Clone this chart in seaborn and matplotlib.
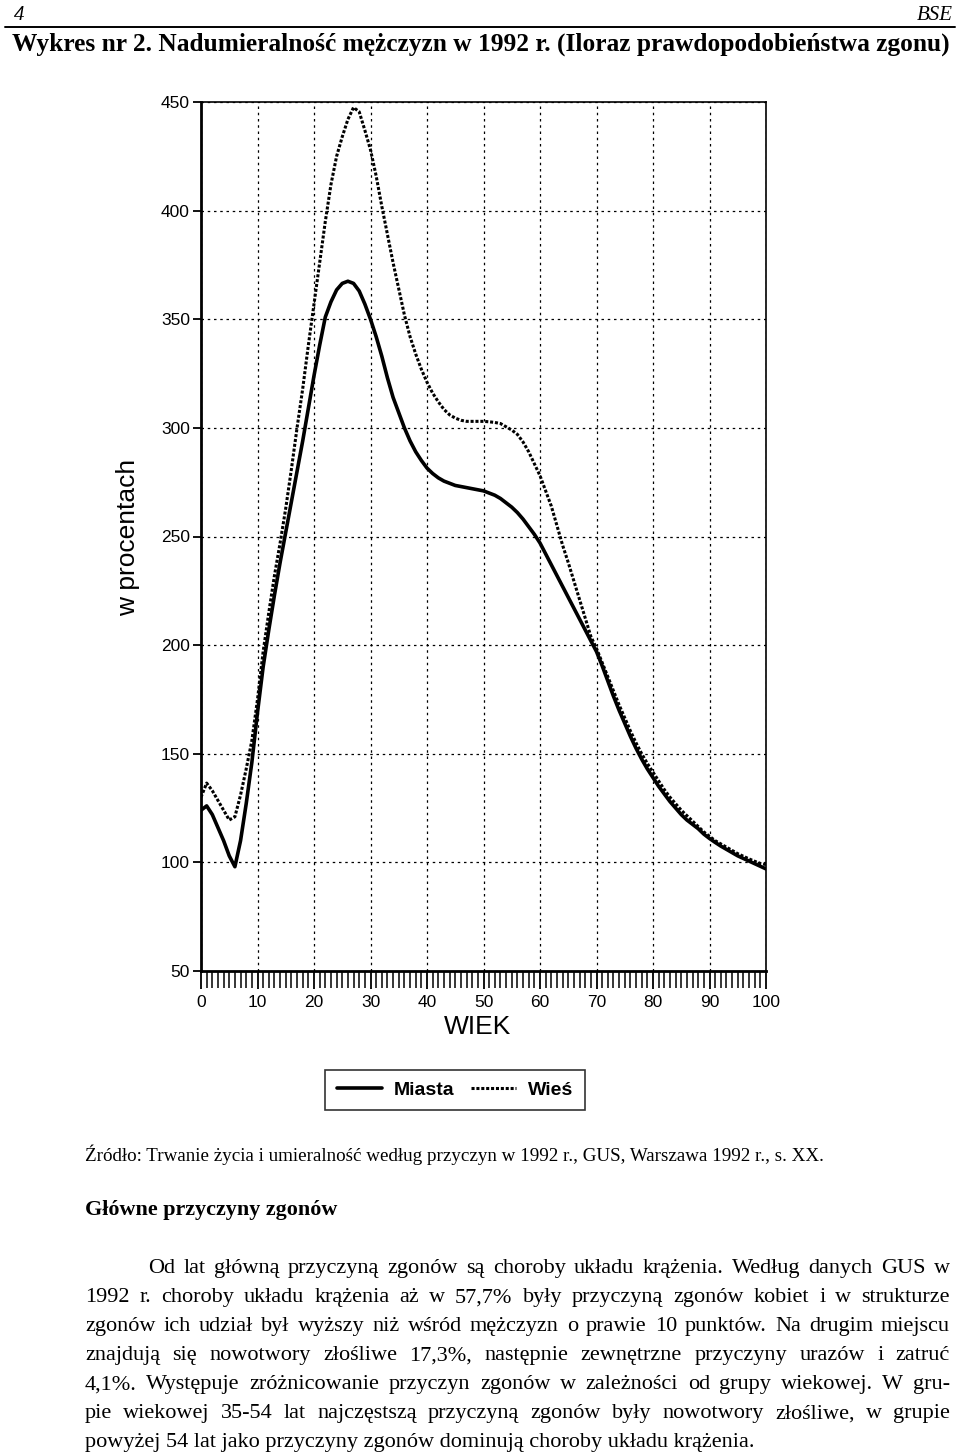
import numpy as np
import pandas as pd
import matplotlib
matplotlib.use("Agg")
import matplotlib.pyplot as plt
import seaborn as sns
from matplotlib.ticker import MultipleLocator
from matplotlib.lines import Line2D

# ---------------- data ----------------
ages = list(range(0, 101))
miasta = [124, 126, 122, 116, 110, 103, 98, 110, 127, 146,
          169, 190, 207, 223, 238, 252, 266, 280, 294, 309,
          324, 338, 351, 358, 363.5, 366.5, 367.5, 366.5, 363, 357,
          350, 342, 333, 323, 314, 307, 300, 294, 289, 285,
          281.5, 279, 277, 275.5, 274.5, 273.5, 273, 272.5, 272, 271.5,
          271, 270, 269, 267.5, 265.5, 263.5, 261, 258, 254.5, 251,
          247, 242, 237, 232, 227, 222, 217, 212, 207, 202,
          197, 190.5, 183.5, 176.5, 170, 164, 158, 152.5, 147.5, 143,
          139, 135, 131.5, 128, 125, 122, 119.5, 117.5, 115.5, 113,
          111, 109.2, 107.5, 106, 104.5, 103, 101.8, 100.6, 99.4, 98.2,
          97]
wies = [130, 136.5, 133, 128.5, 124, 119.5, 121, 131, 143, 156,
        175, 197, 215, 232, 247, 263, 281, 300, 318, 338,
        357, 376, 395, 412, 425, 434, 442, 447.5, 445.5, 437,
        428, 416, 402, 389, 376, 364, 352, 342, 334, 327,
        321, 316, 312, 308.5, 306, 304.5, 303.5, 303, 303, 303,
        303, 302.8, 302.5, 302, 300.5, 299, 297, 293.5, 289, 283.5,
        278, 271, 264, 255, 246, 238, 229.5, 221, 212.5, 204,
        198.5, 192, 185.5, 179, 172.5, 166.5, 160.5, 155, 150, 145.5,
        141.5, 137.5, 133.5, 130, 127, 124, 121.5, 119, 116.5, 114,
        112, 110, 108.5, 107, 105.5, 104, 102.8, 101.6, 100.5, 99.5,
        99]
x_ticks = [0, 10, 20, 30, 40, 50, 60, 70, 80, 90, 100]
y_ticks = [50, 100, 150, 200, 250, 300, 350, 400, 450]
series_labels = ["Miasta", "Wieś"]
x_label = "WIEK"
y_label = "w procentach"

header_left = "4"
header_right = "BSE"
title = "Wykres nr 2. Nadumieralność mężczyzn w 1992 r. (Iloraz prawdopodobieństwa zgonu)"
source = "Źródło: Trwanie życia i umieralność według przyczyn w 1992 r., GUS, Warszawa 1992 r., s. XX."
heading = "Główne przyczyny zgonów"
paragraph = [
    "Od lat główną przyczyną zgonów są choroby układu krążenia. Według danych GUS w",
    "1992 r. choroby układu krążenia aż w 57,7% były przyczyną zgonów kobiet i w strukturze",
    "zgonów ich udział był wyższy niż wśród mężczyzn o prawie 10 punktów. Na drugim miejscu",
    "znajdują się nowotwory złośliwe 17,3%, następnie zewnętrzne przyczyny urazów i zatruć",
    "4,1%. Występuje zróżnicowanie przyczyn zgonów w zależności od grupy wiekowej. W gru-",
    "pie wiekowej 35-54 lat najczęstszą przyczyną zgonów były nowotwory złośliwe, w grupie",
    "powyżej 54 lat jako przyczyny zgonów dominują choroby układu krążenia.",
]

# ---------------- setup ----------------
sns.set_theme(style="white")
plt.rcParams['font.family'] = ['Liberation Sans', 'DejaVu Sans']
plt.rcParams['text.color'] = 'black'
plt.rcParams['axes.labelcolor'] = 'black'
plt.rcParams['xtick.color'] = 'black'
plt.rcParams['ytick.color'] = 'black'

W, H = 960, 1454
fig = plt.figure(figsize=(W / 100, H / 100), dpi=100)
fig.patch.set_facecolor("white")

def fx(x):
    return x / W

def fy(y):
    return 1 - y / H

ax_l, ax_r, ax_t, ax_b = 201, 766, 102, 971
ax = fig.add_axes([fx(ax_l), fy(ax_b), (ax_r - ax_l) / W, (ax_b - ax_t) / H])

df = pd.DataFrame({"wiek": ages, "Miasta": miasta, "Wieś": wies})
sns.lineplot(data=df, x="wiek", y="Miasta", ax=ax, color="black", lw=2.6,
             label=series_labels[0])
sns.lineplot(data=df, x="wiek", y="Wieś", ax=ax, color="black", lw=2.2,
             linestyle=(0, (1.0, 0.6)), label=series_labels[1])

ax.set_xlim(0, 100)
ax.set_ylim(50, 450)
ax.set_xticks(x_ticks)
ax.set_yticks(y_ticks)
ax.xaxis.set_minor_locator(MultipleLocator(1))
ax.tick_params(axis='x', which='major', direction='out', length=13, width=1.3,
               bottom=True, labelsize=12.5, pad=4)
ax.tick_params(axis='x', which='minor', direction='out', length=12, width=1.1,
               bottom=True)
ax.tick_params(axis='y', which='major', direction='out', length=6, width=1.3,
               left=True, labelsize=12.5, pad=2)
ax.grid(True, which='major', color='black', linestyle=(0, (2, 3)), lw=0.9)
for side, sp in ax.spines.items():
    sp.set_color('black')
    sp.set_linewidth(2.0 if side in ('left', 'bottom') else 1.2)

ax.set_xlabel(x_label, fontsize=19)
ax.set_ylabel(y_label, fontsize=19)
ax.xaxis.set_label_coords((478 - ax_l) / (ax_r - ax_l), (ax_b - 1015) / (ax_b - ax_t))
ax.yaxis.set_label_coords((140 - ax_l) / (ax_r - ax_l), (ax_b - 537) / (ax_b - ax_t))

handles, labels = ax.get_legend_handles_labels()
ax.get_legend().remove()
fig.legend(handles, labels, loc='center', bbox_to_anchor=(fx(455), fy(1090)),
           ncol=2, frameon=True, fancybox=False, edgecolor='black',
           prop={'weight': 'bold', 'size': 14}, handlelength=2.3,
           handletextpad=0.6, columnspacing=0.9, borderpad=0.6,
           borderaxespad=0)
fig.legends[0].get_frame().set_linewidth(1.2)

# ---------------- page text ----------------
renderer = fig.canvas.get_renderer()
SERIF = ['Liberation Serif', 'DejaVu Serif']

def width_px(s, **kw):
    t = fig.text(0, 0, s, **kw)
    w = t.get_window_extent(renderer).width
    t.remove()
    return w

def fit_size(s, target, base=14, **kw):
    return base * target / width_px(s, fontsize=base, **kw)

# header
fig.text(fx(14), fy(15), header_left, family=SERIF, style='italic', fontsize=15,
         ha='left', va='center')
fig.text(fx(953), fy(15), header_right, family=SERIF, style='italic', fontsize=15,
         ha='right', va='center')
fig.add_artist(Line2D([fx(5), fx(955)], [fy(27), fy(27)], color='black', lw=1.4))

# title
ts = fit_size(title, 938, family=SERIF, weight='bold')
fig.text(fx(12), fy(44), title, family=SERIF, weight='bold', fontsize=ts,
         ha='left', va='center')

# source
ss = fit_size(source, 743, family=SERIF)
fig.text(fx(85), fy(1155), source, family=SERIF, fontsize=ss, ha='left', va='center')

# heading
hs = fit_size(heading, 253, family=SERIF, weight='bold')
fig.text(fx(85), fy(1210), heading, family=SERIF, weight='bold', fontsize=hs,
         ha='left', va='center')

# paragraph (justified)
ps = fit_size(paragraph[-1], 673, family=SERIF)
line_y0, line_dy = 1266, 29
right_edge = 950
for i, line in enumerate(paragraph):
    yb = line_y0 + i * line_dy + 0.33 * ps * 100 / 72
    x0 = 148 if i == 0 else 85
    if i == len(paragraph) - 1:
        fig.text(fx(x0), fy(yb), line, family=SERIF, fontsize=ps,
                 ha='left', va='baseline')
        continue
    words = line.split()
    widths = [width_px(w_, family=SERIF, fontsize=ps) for w_ in words]
    gap = (right_edge - x0 - sum(widths)) / (len(words) - 1)
    x = x0
    for w_, wd in zip(words, widths):
        fig.text(fx(x), fy(yb), w_, family=SERIF, fontsize=ps,
                 ha='left', va='baseline')
        x += wd + gap

fig.savefig("out.png", dpi=100, facecolor="white")
